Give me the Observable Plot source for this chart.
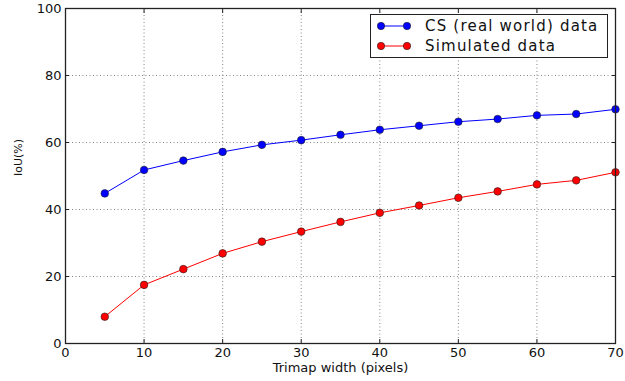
<!DOCTYPE html>
<html>
<head>
<meta charset="utf-8">
<script src="https://cdn.jsdelivr.net/npm/d3@7"></script>
<script src="https://cdn.jsdelivr.net/npm/@observablehq/plot@0.6"></script>
<style>
  html, body { margin: 0; padding: 0; background: #fff; }
  #wrap { position: relative; width: 625px; height: 381px; }
  #legend { position: absolute; left: 370px; top: 14px; width: 236px; height: 42px;
    border: 1.3px solid #222; background: #fff; font-family: "DejaVu Sans", sans-serif;
    font-size: 15px; letter-spacing: 1.2px; color: #111; }
  .row { position: absolute; left: 0; height: 20px; display: flex; align-items: center; }
  .row svg { margin-left: 6px; margin-right: 14px; }
</style>
</head>
<body>
<div id="wrap"><div id="legend"></div></div>
<script>
const widths = [5, 10, 15, 20, 25, 30, 35, 40, 45, 50, 55, 60, 65, 70];
const csIoU = [44.8, 51.8, 54.6, 57.2, 59.3, 60.7, 62.3, 63.8, 65.0, 66.2, 67.0, 68.1, 68.5, 69.9];
const simIoU = [8.0, 17.5, 22.2, 26.9, 30.4, 33.4, 36.3, 39.0, 41.2, 43.5, 45.4, 47.5, 48.7, 51.1];
const seriesNames = ["CS (real world) data", "Simulated data"];
const seriesColors = ["#0000ff", "#ff0000"];
const xTicks = [0, 10, 20, 30, 40, 50, 60, 70];
const yTicks = [0, 20, 40, 60, 80, 100];
const xLabel = "Trimap width (pixels)";
const yLabel = "IoU(%)";

const rows = [];
[csIoU, simIoU].forEach((vals, i) => {
  widths.forEach((w, j) => rows.push({w, v: vals[j], s: seriesNames[i]}));
});

const colorOf = s => seriesColors[seriesNames.indexOf(s)];
const gridStyle = {stroke: "#666", strokeOpacity: 1, strokeWidth: 0.8, strokeDasharray: "1,2.5"};

const chart = Plot.plot({
  width: 625,
  height: 381,
  marginLeft: 65,
  marginRight: 10,
  marginTop: 8,
  marginBottom: 38,
  style: {fontFamily: "DejaVu Sans, sans-serif", fontSize: "13px", color: "#111", background: "#fff"},
  x: {domain: [0, 70]},
  y: {domain: [0, 100]},
  marks: [
    Plot.gridX(xTicks.slice(1, -1), gridStyle),
    Plot.gridY(yTicks.slice(1, -1), gridStyle),
    Plot.axisX(xTicks, {anchor: "bottom", tickSize: 0, tickPadding: 4, label: null, style: "letter-spacing:0.3px"}),
    Plot.axisY(yTicks, {anchor: "left", tickSize: 0, tickPadding: 4, label: null, style: "letter-spacing:0.3px"}),
    Plot.axisX(xTicks, {anchor: "bottom", tickSize: -4, fill: "none", label: null, stroke: "#222"}),
    Plot.axisX(xTicks, {anchor: "top", tickSize: -4, fill: "none", label: null, stroke: "#222"}),
    Plot.axisY(yTicks, {anchor: "left", tickSize: -4, fill: "none", label: null, stroke: "#222"}),
    Plot.axisY(yTicks, {anchor: "right", tickSize: -4, fill: "none", label: null, stroke: "#222"}),
    Plot.text([xLabel], {frameAnchor: "bottom", dy: 28, fontSize: 13, fill: "#111", style: "letter-spacing:0.5px"}),
    Plot.text([yLabel], {frameAnchor: "left", dx: -47, rotate: -90, fontSize: 11, fill: "#111"}),
    Plot.line(rows, {x: "w", y: "v", z: "s", stroke: d => colorOf(d.s), strokeWidth: 1}),
    Plot.dot(rows, {x: "w", y: "v", r: 3.8, fill: d => colorOf(d.s), stroke: "#222", strokeWidth: 0.6}),
    Plot.frame({stroke: "#222", strokeWidth: 1.3})
  ]
});
document.getElementById("wrap").prepend(chart);

const legend = document.getElementById("legend");
seriesNames.forEach((name, i) => {
  const row = document.createElement("div");
  row.className = "row";
  row.style.top = (1 + i * 20) + "px";
  const c = seriesColors[i];
  row.innerHTML = `<svg width="34" height="12"><line x1="4" y1="6" x2="30" y2="6" stroke="${c}" stroke-width="1"/>` +
    `<circle cx="4" cy="6" r="3.7" fill="${c}" stroke="#222" stroke-width="0.6"/>` +
    `<circle cx="30" cy="6" r="3.7" fill="${c}" stroke="#222" stroke-width="0.6"/></svg><span>${name}</span>`;
  legend.appendChild(row);
});
</script>
</body>
</html>
